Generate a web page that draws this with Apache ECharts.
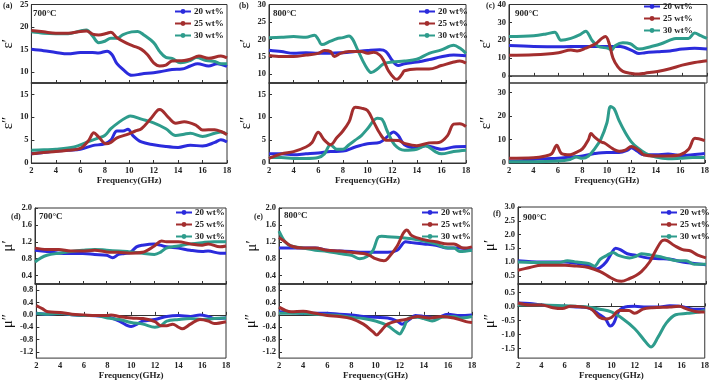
<!DOCTYPE html>
<html><head><meta charset="utf-8">
<script src="https://cdn.jsdelivr.net/npm/echarts@6/dist/echarts.min.js"></script>
<style>html,body{margin:0;padding:0;background:#fff}#c{width:712px;height:381px}</style>
</head><body><div id="c"></div>
<script>
const SERIES_NAMES = ['20 wt%', '25 wt%', '30 wt%'];
const X_TICKS = [2, 4, 6, 8, 10, 12, 14, 16, 18];

// (a) 700°C
const A_EP_20 = [[2,15],[3,14.7],[4,14.3],[5,14],[6,14.3],[7,14.3],[7.5,14.2],[8.2,14.6],[8.6,13.8],[9,11.8],[9.5,10.5],[10.2,9.2],[11,9.5],[12,9.8],[12.5,10],[13.5,10.5],[14.3,10.6],[15,11.3],[15.6,11.8],[16.5,11.3],[17.2,11.8],[18,11.2]];
const A_EP_25 = [[2,19.2],[3,18.9],[4,18.6],[5,18.6],[6,19],[6.5,19.1],[7,18.4],[7.5,18.2],[8.2,18.6],[8.5,18.8],[9,17.6],[9.7,16.5],[10.3,15.8],[11,15],[11.5,13.8],[12,12],[12.5,11.3],[13,11.5],[13.5,12.4],[14.5,12.5],[15,12.8],[15.7,13.5],[16.5,13],[17.5,13.5],[18,13.1]];
const A_EP_30 = [[2,18.9],[3,18.6],[4,18.5],[5,18.5],[6,19.1],[6.5,19.3],[7,18],[7.5,16.5],[8,16.8],[8.5,17.5],[9,17.5],[9.5,18.3],[10.2,18.9],[10.7,19],[11.2,18.2],[12,16.5],[12.5,14.5],[13,13.2],[13.5,13],[14.2,12],[15,12.5],[15.5,13.2],[16.3,12.5],[17,12.3],[17.5,11.8],[18,11.8]];
const A_EPP_20 = [[2,2],[3,2.3],[4,2.6],[5,2.8],[6,3],[7,3.8],[8,4.2],[8.5,5],[9,7],[9.5,7],[9.9,7.4],[10.3,6],[11,4.6],[12,4],[13,3.6],[14,3.4],[15,3.9],[16,3.7],[17,4.5],[17.5,5.1],[18,4.6]];
const A_EPP_25 = [[2,2],[3,2.3],[4,2.5],[5,2.8],[6,3.2],[6.7,5],[7.1,6.6],[7.5,5.7],[8.1,4.2],[8.5,4.5],[9,5.5],[9.8,6.2],[10.5,7],[11,7.5],[11.7,9.5],[12.3,11.5],[12.5,11.7],[13.2,10],[13.8,8.7],[14.5,9],[15.5,8.2],[16,7.2],[17,7.3],[17.5,6.9],[18,6.2]];
const A_EPP_30 = [[2,2.8],[3,2.9],[4,3],[5.5,3.5],[6.5,4.5],[7.5,5.5],[8,6],[8.5,7.5],[9.2,9],[9.8,10],[10.1,10.3],[11,9.6],[12,8.8],[13,7.5],[13.8,6],[14.5,6.3],[15,6.5],[16,5.8],[17,6.5],[17.5,6.8],[18,6.3]];

// (b) 800°C
const B_EP_20 = [[2,16.9],[3,16.5],[4,16],[5,16.2],[6,16],[7,16],[8,16.2],[9,16.5],[10,16.8],[11,17],[11.5,16.5],[12,14],[12.5,12.5],[13,13],[14,13.5],[15,14.2],[16,15],[17,15.5],[18,15.3]];
const B_EP_25 = [[2,15.4],[3,15.1],[4,15.1],[5,15.5],[6,16],[6.5,16.8],[7,16.5],[7.3,15.1],[7.8,16],[8.5,16.5],[9.5,16.5],[10,16],[10.5,16.3],[11,15.5],[11.3,14],[11.7,11],[12.2,8.8],[12.4,8.6],[12.8,10],[13,11],[14,11.5],[15,11.5],[16,12.5],[17,13.5],[17.5,13.8],[18,13.2]];
const B_EP_30 = [[2,20.5],[3,20.6],[4,20.8],[5,20.6],[5.7,21.2],[6,20],[6.3,18.5],[7,19.5],[7.5,20.2],[8,20.5],[8.5,21],[8.8,20],[9.2,17],[9.6,14],[10,11.5],[10.3,10.5],[10.8,11.5],[11.3,13],[12,13.5],[13,13.8],[14,14.3],[15,16],[16,17],[17,18.3],[17.5,17.5],[18,16]];
const B_EPP_20 = [[2,2],[3,2],[4,1.8],[5,2],[6,2.2],[7,2.5],[8,2.6],[9,3.5],[10,4.2],[11,4.5],[11.7,6],[12.1,6.8],[12.5,6],[13,4],[14,3.3],[14.7,3.8],[15.5,3.3],[16,3],[17,3.5],[18,3.6]];
const B_EPP_25 = [[2,1],[3,2],[4,2.5],[5,3.5],[5.5,4.5],[6,6.7],[6.5,5],[7,4],[7.5,5.5],[8,7],[8.5,9],[9,12.2],[9.5,12],[10,11.5],[10.5,9],[11,6.5],[11.5,5],[12.5,4.9],[13,4.3],[14,3.8],[15,4.4],[15.8,4.5],[16.5,6],[17,8.5],[17.5,8.6],[18,8]];
const B_EPP_30 = [[2,1.2],[3,1.2],[4,1],[5,1],[6,1.2],[6.5,2],[7,4],[7.5,3],[8,3],[8.5,4],[9,5],[9.5,6],[10,7.5],[10.8,9.8],[11.2,9.5],[11.6,7],[12.2,4],[13,2.8],[14,3],[14.7,3.8],[15.5,2.5],[16,2],[17,2.5],[18,2.8]];

// (c) 900°C
const C_EP_20 = [[2,17],[4,16.5],[6,16.3],[8,16.5],[10,16.5],[11,16.5],[12,14],[12.5,12.5],[13,13],[14,13.5],[15,14],[16,15],[17,15.5],[18,15]];
const C_EP_25 = [[2,11.5],[4,11.8],[6,13],[7,14.5],[7.5,14],[8.2,15.5],[9,18],[9.5,21],[9.8,22],[10.1,18],[10.4,10],[10.8,5],[11.2,2.5],[11.8,1.5],[12.5,1],[13,1.5],[14,2.5],[15,4],[16,6],[17,7.5],[18,8.5]];
const C_EP_30 = [[2,22],[4,22.5],[5,23.5],[5.7,24.5],[6.2,20],[7,21],[7.7,23],[8.2,25],[8.7,20],[9.2,16.5],[10,15.5],[10.3,14.5],[10.6,17],[11.2,18.5],[11.8,18],[12.5,15],[13.5,16.5],[14.3,18],[15,20],[15.5,21],[16.5,21],[17,24],[17.5,22.5],[18,21]];
const C_EPP_20 = [[2,0.8],[3,1],[4,1.5],[5,1.8],[6,2],[7,2.5],[8,3],[9,4],[10,4.5],[11,4.5],[11.7,5.5],[12,6.5],[12.5,5],[13,3.5],[14,3.5],[15,3.8],[16,3.2],[17,3.5],[18,4]];
const C_EPP_25 = [[2,2],[4,2.2],[5,3],[5.5,4],[5.9,7.5],[6.3,4],[7,3.5],[7.5,4.5],[8,6],[8.5,10],[8.7,12.5],[9,11],[9.5,9],[9.8,8.5],[10.5,6],[11,5],[11.5,5.5],[12,7],[12.7,5],[13,3.5],[14,3],[15,3],[16,3.5],[16.7,6],[17.2,10.5],[18,9.5]];
const C_EPP_30 = [[2,0.5],[4,0.5],[6,0.8],[7,1.5],[7.5,2.5],[8,2],[8.5,3],[9,6],[9.5,10],[10,17],[10.3,24],[10.6,23],[11,18],[11.5,13],[12,9],[12.5,6.5],[13.2,4],[14,2.5],[15,1.8],[16,2],[17,2.3],[18,2.3]];

// (d) 700°C
const D_MP_20 = [[2,1.0],[3,0.97],[4,0.93],[5,0.92],[6,0.92],[7,0.9],[8,0.88],[8.5,0.82],[9,0.9],[9.5,0.92],[10,0.95],[10.5,1.08],[11,1.12],[12,1.15],[12.5,1.12],[13,1.08],[14,1.05],[15,1.0],[16,0.97],[16.5,0.98],[17.5,0.93],[18,0.93]];
const D_MP_25 = [[2,1.05],[3,1.02],[4,1.02],[5,0.98],[6,0.98],[7,1.0],[8,0.96],[9,0.95],[10,0.93],[11,0.95],[12,1.1],[12.6,1.22],[13,1.2],[14,1.2],[15,1.15],[16,1.12],[16.5,1.15],[17.5,1.08],[18,1.1]];
const D_MP_30 = [[2,0.72],[2.5,0.82],[3,0.88],[4,0.93],[5,0.97],[6,1.0],[7,1.02],[8,1.0],[9,0.98],[10,0.96],[11,0.93],[12,0.9],[12.5,0.95],[13,1.05],[14,1.1],[15,1.15],[16,1.18],[17,1.2],[18,1.2]];
const D_MPP_20 = [[2,0.05],[3,0.02],[4,0.05],[5,0],[6,-0.02],[7,-0.03],[8,-0.06],[9,-0.2],[9.7,-0.35],[10,-0.38],[10.5,-0.3],[11,-0.2],[12,-0.15],[13,-0.05],[14,-0.02],[15,-0.05],[15.8,0],[16.5,-0.05],[17,-0.12],[18,-0.1]];
const D_MPP_25 = [[2,0.3],[2.5,0.2],[3,0.1],[4,0.08],[5,0.02],[6,0],[7,-0.02],[8,-0.02],[8.3,0],[9,-0.05],[10,-0.1],[11,-0.12],[12,-0.22],[12.5,-0.35],[13,-0.35],[13.5,-0.3],[14,-0.4],[14.3,-0.45],[15,-0.3],[15.8,-0.15],[16.5,-0.2],[17,-0.28],[18,-0.22]];
const D_MPP_30 = [[2,0.05],[3,0.02],[4,0.05],[5,0],[6,-0.02],[7,-0.02],[8,-0.1],[9,-0.15],[10,-0.25],[11,-0.3],[12,-0.4],[12.5,-0.35],[13,-0.2],[14,-0.15],[15,-0.12],[16,-0.15],[17,-0.12],[18,-0.1]];

// (e) 800°C
const E_MP_20 = [[2,1.05],[3,1.05],[4,1.05],[5,1.05],[6,1.0],[7,0.98],[8,0.97],[9,0.95],[10,0.95],[11,0.95],[11.8,1.0],[12.5,1.2],[13,1.18],[14,1.15],[15,1.12],[16,1.05],[17,1.05],[18,1.0]];
const E_MP_25 = [[2,1.3],[2.5,1.2],[3,1.1],[4,1.05],[5,1.05],[6,1.0],[7,0.98],[8,0.95],[9,0.92],[9.5,0.88],[10,0.8],[10.7,0.75],[11,0.8],[11.8,1.1],[12.3,1.4],[12.6,1.48],[13,1.35],[14,1.25],[15,1.2],[16,1.15],[16.5,1.15],[17.3,1.05],[18,1.08]];
const E_MP_30 = [[2,1.45],[2.5,1.2],[3,1.1],[4,1.05],[5,1.0],[6,0.97],[7,0.92],[8,0.88],[8.7,0.8],[9.3,0.85],[9.8,1.0],[10.2,1.3],[10.5,1.33],[11,1.32],[12,1.3],[13,1.27],[14,1.22],[15,1.15],[16,1.05],[16.5,1.05],[17,0.97],[18,1.0]];
const E_MPP_20 = [[2,0.1],[3,0.08],[4,0.05],[5,0.05],[6,0.05],[7,0.02],[8,0],[9,-0.05],[10,-0.08],[11,-0.1],[11.8,-0.2],[12.2,-0.3],[12.8,-0.15],[13.3,-0.02],[14,-0.05],[15,-0.1],[16,0.02],[17,-0.02],[18,0]];
const E_MPP_25 = [[2,0.25],[2.5,0.15],[3,0.1],[4,0.12],[5,0.05],[6,-0.02],[7,-0.05],[8,-0.12],[9,-0.3],[9.8,-0.55],[10.1,-0.65],[10.5,-0.5],[11,-0.3],[12,-0.18],[12.5,-0.15],[13.5,-0.05],[14.5,-0.1],[15.5,-0.05],[16.5,-0.1],[17.5,-0.22],[18,-0.25]];
const E_MPP_30 = [[2,0.05],[3,0.05],[4,0.05],[5,0.02],[6,0],[7,-0.02],[8,-0.08],[9,-0.12],[10,-0.2],[11,-0.35],[11.7,-0.55],[12,-0.62],[12.3,-0.45],[12.8,-0.1],[13.5,-0.08],[14,-0.12],[14.7,-0.2],[15.5,-0.08],[16.5,-0.05],[17,-0.1],[18,-0.05]];

// (f) 900°C
const F_MP_20 = [[2,1.05],[4,1.0],[6,1.0],[7,0.95],[8,0.88],[8.7,0.75],[9,0.8],[9.5,1.0],[10,1.35],[10.3,1.5],[10.7,1.45],[11.3,1.3],[12,1.25],[13,1.15],[14,1.12],[15,1.1],[16,1.0],[17,0.95],[18,0.9]];
const F_MP_25 = [[2,0.7],[3,0.8],[4,0.88],[5,0.88],[6,0.88],[7,0.85],[8,0.8],[9,0.65],[9.8,0.45],[10.4,0.32],[10.8,0.3],[11.5,0.4],[12,0.5],[12.5,0.65],[13.2,1.0],[13.7,1.4],[14.2,1.75],[14.5,1.8],[15.3,1.6],[16,1.45],[16.7,1.4],[17.3,1.25],[18,1.15]];
const F_MP_30 = [[2,1.0],[4,0.98],[5.5,0.98],[6.2,1.05],[7,1.0],[8,0.95],[8.5,0.85],[9,1.1],[9.6,1.25],[10.1,1.35],[10.5,1.25],[11.5,1.15],[12,1.2],[12.5,1.3],[13.3,1.25],[14,1.2],[14.5,1.15],[15.5,1.05],[16.3,1.05],[17,0.92],[18,0.92]];
const F_MPP_20 = [[2,0.12],[3,0.1],[4,0.05],[5,0.02],[6,0],[7,-0.02],[8,-0.05],[9,-0.3],[9.5,-0.45],[9.9,-0.7],[10.2,-0.6],[10.6,-0.2],[11,-0.05],[12,0],[13,-0.02],[14,-0.02],[15,0.02],[16,0],[17,-0.1],[18,-0.1]];
const F_MPP_25 = [[2,0.12],[3,0.05],[4,0.05],[5,-0.05],[5.8,-0.08],[6.5,0],[7.5,-0.02],[8.3,-0.1],[9,-0.4],[9.5,-0.45],[10,-0.4],[10.7,-0.15],[11.5,-0.15],[12,-0.25],[12.7,-0.1],[13.5,-0.05],[15,-0.02],[15.8,0],[16.5,-0.1],[17.5,-0.2],[18,-0.2]];
const F_MPP_30 = [[2,0.05],[4,0.05],[6,0.02],[7,0],[8,-0.02],[9,-0.1],[10,-0.2],[11,-0.45],[12,-0.8],[12.8,-1.2],[13.2,-1.4],[13.4,-1.45],[14,-1.1],[14.7,-0.6],[15.5,-0.3],[16.5,-0.25],[17.5,-0.2],[18,-0.15]];

// y-axis tick labels
const A_EP_TICKS = [10, 15, 20, 25];
const A_EPP_TICKS = [0, 5, 10, 15];
const B_EP_TICKS = [10, 15, 20, 25, 30];
const B_EPP_TICKS = [0, 5, 10, 15];
const C_EP_TICKS = [0, 10, 20, 30, 40];
const C_EPP_TICKS = [0, 10, 20, 30];
const D_MP_TICKS = [0.4, 0.8, 1.2, 1.6, 2.0];
const D_MPP_TICKS = [-1.2, -0.8, -0.4, 0.0, 0.4, 0.8];
const F_MP_TICKS = [0.5, 1.0, 1.5, 2.0, 2.5, 3.0];
const F_MPP_TICKS = [-1.5, -1.0, -0.5, 0.0, 0.5];

const COLORS = ['#2b2bdc', '#a32e2e', '#2e9c8c'];
const FONT = 'Liberation Serif';

// layout (positions only)
const PANELS = [
  {lbl:'(a)', temp:'700°C', left:26, width:201, top:3, h:80, gap:15, names:['ε′','ε″'], sub:[
    {min:7.5,max:25,ticks:A_EP_TICKS,data:[A_EP_20,A_EP_25,A_EP_30],dec:0},
    {min:0,max:17.5,ticks:A_EPP_TICKS,data:[A_EPP_20,A_EPP_25,A_EPP_30],dec:0}],
   lblPos:[3,2], tempPos:[33,9], legPos:[174,7]},
  {lbl:'(b)', temp:'800°C', left:269, width:197, top:3, h:80, gap:15, names:['ε′','ε″'], sub:[
    {min:7.5,max:30,ticks:B_EP_TICKS,data:[B_EP_20,B_EP_25,B_EP_30],dec:0},
    {min:0,max:17.5,ticks:B_EPP_TICKS,data:[B_EPP_20,B_EPP_25,B_EPP_30],dec:0}],
   lblPos:[239,2], tempPos:[273,9], legPos:[418,7]},
  {lbl:'(c)', temp:'900°C', left:509, width:198, top:3, h:80, gap:15, names:['ε′','ε″'], sub:[
    {min:-4,max:40,ticks:C_EP_TICKS,data:[C_EP_20,C_EP_25,C_EP_30],dec:0},
    {min:0,max:34,ticks:C_EPP_TICKS,data:[C_EPP_20,C_EPP_25,C_EPP_30],dec:0}],
   lblPos:[486,2], tempPos:[515,9], legPos:[643,2]},
  {lbl:'(d)', temp:'700°C', left:34, width:192, top:208, h:76, gap:19, names:['μ′','μ″'], sub:[
    {min:0.2,max:2.0,ticks:D_MP_TICKS,data:[D_MP_20,D_MP_25,D_MP_30],dec:1},
    {min:-1.4,max:1.0,ticks:D_MPP_TICKS,data:[D_MPP_20,D_MPP_25,D_MPP_30],dec:1}],
   lblPos:[11,213], tempPos:[39,212], legPos:[175,208]},
  {lbl:'(e)', temp:'800°C', left:279, width:193, top:208, h:76, gap:19, names:['μ′','μ″'], sub:[
    {min:0.2,max:2.0,ticks:D_MP_TICKS,data:[E_MP_20,E_MP_25,E_MP_30],dec:1},
    {min:-1.4,max:1.0,ticks:D_MPP_TICKS,data:[E_MPP_20,E_MPP_25,E_MPP_30],dec:1}],
   lblPos:[254,213], tempPos:[284,211], legPos:[421,208]},
  {lbl:'(f)', temp:'900°C', left:518, width:188, top:207, h:77, gap:20, names:['μ′','μ″'], sub:[
    {min:0.2,max:3.0,ticks:F_MP_TICKS,data:[F_MP_20,F_MP_25,F_MP_30],dec:1},
    {min:-1.85,max:0.8,ticks:F_MPP_TICKS,data:[F_MPP_20,F_MPP_25,F_MPP_30],dec:1}],
   lblPos:[493,210], tempPos:[523,213], legPos:[660,208]}
];

const grid = [], xAxis = [], yAxis = [], series = [], legend = [], graphic = [];
PANELS.forEach((p, pi) => {
  p.sub.forEach((s, si) => {
    const gi = grid.length;
    grid.push({left:p.left, top:p.top + si*p.h, width:p.width, height:p.h, show:true,
      borderColor:'#333', borderWidth:1, containLabel:false});
    const isBottom = si === 1;
    xAxis.push({type:'value', gridIndex:gi, min:2, max:18, interval:2,
      axisLine:{show:true, lineStyle:{color:'#333', width: isBottom ? 1 : 1.5}},
      axisTick:{show:true, inside:true, length:3, lineStyle:{color:'#333'}},
      splitLine:{show:false},
      axisLabel:{show:isBottom, fontFamily:FONT, fontWeight:'bold', fontSize:8.5, color:'#222', margin:3},
      name: isBottom ? 'Frequency(GHz)' : '', nameLocation:'middle', nameGap:12,
      nameTextStyle:{fontFamily:FONT, fontWeight:'bold', fontSize:9, color:'#222'}});
    yAxis.push({type:'value', gridIndex:gi, min:s.min, max:s.max,
      axisLine:{show:true, lineStyle:{color:'#333', width:1}},
      axisTick:{show:true, inside:true, length:3, customValues:s.ticks, lineStyle:{color:'#333'}},
      splitLine:{show:false},
      axisLabel:{show:true, customValues:s.ticks, showMaxLabel:true, showMinLabel:true, hideOverlap:false,
        fontFamily:FONT, fontWeight:'bold', fontSize:8.5, color:'#222', margin:3,
        formatter:(v)=>Number(v).toFixed(s.dec)},
      name:p.names[si], nameLocation:'middle', nameRotate:90, nameGap:p.gap,
      nameTextStyle:{fontFamily:FONT, fontSize:15, color:'#111'}});
    s.data.forEach((d, k) => {
      series.push({type:'line', name:SERIES_NAMES[k], xAxisIndex:gi, yAxisIndex:gi,
        data:d, smooth:0.35, symbol:'circle', symbolSize:4, showSymbol:false,
        lineStyle:{width:3, color:COLORS[k]}, itemStyle:{color:COLORS[k]},
        z: k===1 ? 3 : 2, animation:false});
    });
  });
  legend.push({data:SERIES_NAMES, orient:'vertical', left:p.legPos[0], top:p.legPos[1],
    itemWidth:16, itemHeight:6, itemGap:3, padding:0,
    textStyle:{fontFamily:FONT, fontWeight:'bold', fontSize:9, color:'#222', padding:[0,0,0,-2]}});
  graphic.push({type:'text', left:p.lblPos[0], top:p.lblPos[1], z:100,
    style:{text:p.lbl, font:'bold 8px "Liberation Serif"', fill:'#222'}});
  graphic.push({type:'text', left:p.tempPos[0], top:p.tempPos[1], z:100,
    style:{text:p.temp, font:'bold 9px "Liberation Serif"', fill:'#222'}});
});

const chart = echarts.init(document.getElementById('c'), null, {renderer:'canvas'});
chart.setOption({animation:false, backgroundColor:'#fff', grid, xAxis, yAxis, series, legend, graphic});
</script></body></html>
